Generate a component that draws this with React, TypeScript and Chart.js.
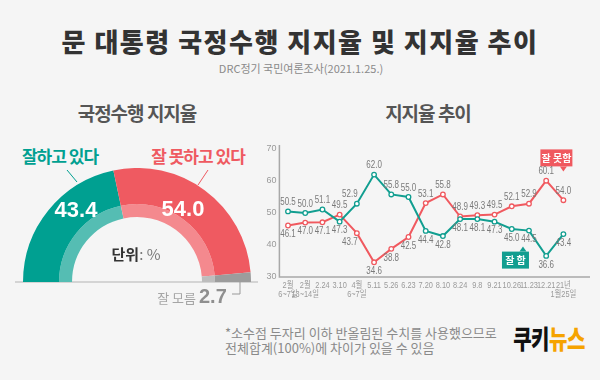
import React, { useEffect, useRef } from "react";
import { Chart, registerables } from "chart.js";

Chart.register(...registerables);

// ---------- data ----------
const gaugeLabels = ["잘하고 있다", "잘 못하고 있다", "잘 모름"];
const gaugeValues = [43.4, 54.0, 2.7];

const dateLabels: (string | string[])[] = [
  ["2월", "6~7일"],
  ["2월", "13~14일"],
  "2.24",
  "3.10",
  ["4월", "6~7일"],
  "5.11",
  "5.26",
  "6.23",
  "7.20",
  "8.10",
  "8.24",
  "9.8",
  "9.21",
  "10.26",
  "11.23",
  "12.21",
  ["21년", "1월25일"],
];
const seriesNames = ["잘 함", "잘 못함"];
const positiveSeries = [50.5, 50.0, 51.1, 47.3, 52.9, 62.0, 55.8, 55.0, 44.4, 42.8, 48.1, 48.1, 47.3, 45.0, 44.5, 36.6, 43.4];
const negativeSeries = [46.1, 47.0, 47.1, 49.5, 43.7, 34.6, 38.8, 42.5, 53.1, 55.8, 48.9, 49.3, 49.5, 52.1, 52.9, 60.1, 54.0];
const yMin = 30;
const yMax = 70;
const yStep = 10;

// ---------- styles ----------
const TEAL = "#00A091";
const RED = "#EF5A61";
const GRAY = "#9C9C9C";
const TEAL_L = "#55BDB3";
const RED_L = "#F4898E";
const GRAY_L = "#BDBDBD";
const LINE_GREEN = "#119E90";
const LINE_RED = "#F0595F";
const KR = "'Noto Sans CJK KR', 'Noto Sans', sans-serif";
const SANS = "'Liberation Sans', Arial, 'Noto Sans CJK KR', sans-serif";

function Gauge() {
  const ref = useRef<HTMLCanvasElement>(null);
  useEffect(() => {
    const chart = new Chart(ref.current!, {
      type: "doughnut",
      data: {
        labels: gaugeLabels,
        datasets: [
          { data: gaugeValues, backgroundColor: [TEAL, RED, GRAY], borderWidth: 0, weight: 36 } as any,
          { data: gaugeValues, backgroundColor: [TEAL_L, RED_L, GRAY_L], borderWidth: 0, weight: 13 } as any,
        ],
      },
      options: {
        responsive: false,
        animation: false,
        rotation: -90,
        circumference: 180,
        cutout: "57%",
        layout: { padding: 0 },
        plugins: { legend: { display: false }, tooltip: { enabled: false } },
      } as any,
    });
    return () => chart.destroy();
  }, []);
  return (
    <canvas
      ref={ref}
      width={228}
      height={114}
      style={{ position: "absolute", left: 23, top: 168, width: 228, height: 114 }}
    />
  );
}

const squeezeText = (ctx: CanvasRenderingContext2D, text: string, x: number, y: number, sx: number) => {
  ctx.save();
  ctx.translate(x, y);
  ctx.scale(sx, 1);
  ctx.fillText(text, 0, 0);
  ctx.restore();
};

const decorPlugin = {
  id: "decor",
  beforeDatasetsDraw(chart: any) {
    const { ctx, chartArea } = chart;
    ctx.save();
    ctx.strokeStyle = "#A8A8A8";
    ctx.lineWidth = 1.5;
    ctx.beginPath();
    ctx.moveTo(chartArea.left, chartArea.top - 4);
    ctx.lineTo(chartArea.left, chartArea.bottom);
    ctx.lineTo(chartArea.right + 18, chartArea.bottom);
    ctx.stroke();
    ctx.restore();
  },
  afterDatasetsDraw(chart: any) {
    const { ctx, chartArea } = chart;
    const xs = chart.scales.x;
    const ys = chart.scales.y;
    ctx.save();

    // callout boxes
    const drawBox = (text: string, color: string, tipX: number, tipY: number, boxL: number, boxR: number, down: boolean) => {
      ctx.fillStyle = color;
      let top: number, bottom: number;
      if (down) {
        bottom = tipY - 5;
        top = bottom - 17;
        ctx.fillRect(boxL, top, boxR - boxL, 17);
        ctx.beginPath();
        ctx.moveTo(tipX - 3.5, bottom);
        ctx.lineTo(tipX + 3.5, bottom);
        ctx.lineTo(tipX, tipY);
        ctx.closePath();
        ctx.fill();
      } else {
        top = tipY + 5;
        bottom = top + 17;
        ctx.fillRect(boxL, top, boxR - boxL, 17);
        ctx.beginPath();
        ctx.moveTo(tipX - 3.5, top);
        ctx.lineTo(tipX + 3.5, top);
        ctx.lineTo(tipX, tipY);
        ctx.closePath();
        ctx.fill();
      }
      ctx.fillStyle = "#fff";
      ctx.font = "bold 10px " + KR;
      ctx.textAlign = "center";
      ctx.textBaseline = "middle";
      ctx.fillText(text, (boxL + boxR) / 2, (top + bottom) / 2 + 0.5);
    };
    const last = dateLabels.length - 1;
    const xr = xs.getPixelForValue(last);
    const yr = ys.getPixelForValue(63);
    drawBox(seriesNames[1], LINE_RED, xr, yr, xr - 23, xr + 9, true);
    const xg = xs.getPixelForValue(last - 2);
    const yg = ys.getPixelForValue(39.5);
    drawBox(seriesNames[0], LINE_GREEN, xg - 6, yg, xg - 27, xg, false);

    // x tick labels (condensed)
    ctx.font = "9px " + SANS;
    ctx.fillStyle = "#9A9A9A";
    ctx.textAlign = "center";
    ctx.textBaseline = "middle";
    dateLabels.forEach((lab, i) => {
      const lines = Array.isArray(lab) ? lab : [lab];
      const x = xs.getPixelForValue(i);
      lines.forEach((ln, k) => {
        squeezeText(ctx, ln, x, chartArea.bottom + 9 + k * 8.5, 0.82);
      });
    });

    // value labels
    ctx.font = "10px " + SANS;
    ctx.fillStyle = "#7A7A7A";
    chart.data.datasets.forEach((ds: any, di: number) => {
      const meta = chart.getDatasetMeta(di);
      const other = chart.data.datasets[1 - di].data;
      meta.data.forEach((pt: any, j: number) => {
        const v = ds.data[j];
        const next = j + 1 < ds.data.length ? ds.data[j + 1] : v;
        const above = v >= other[j];
        // steep segment to the right: move label left so it does not sit on the line
        const steep = above ? next - v > 8 : v - next > 8;
        const dx = steep ? -7 : 0;
        squeezeText(ctx, v.toFixed(1), pt.x + dx, pt.y + (above ? -9 : 9), 0.8);
      });
    });
    ctx.restore();
  },
};

function TrendChart() {
  const ref = useRef<HTMLCanvasElement>(null);
  useEffect(() => {
    const pointStyle = (c: string) => ({
      borderColor: c,
      backgroundColor: "#fff",
      pointBackgroundColor: "#fff",
      pointBorderColor: c,
      pointRadius: 2.3,
      pointBorderWidth: 1.3,
      borderWidth: 2,
      tension: 0,
    });
    const chart = new Chart(ref.current!, {
      type: "line",
      data: {
        labels: dateLabels as any,
        datasets: [
          { label: seriesNames[0], data: positiveSeries, ...pointStyle(LINE_GREEN) },
          { label: seriesNames[1], data: negativeSeries, ...pointStyle(LINE_RED) },
        ],
      },
      options: {
        responsive: false,
        animation: false,
        layout: { padding: { left: 0, top: 14, right: 28, bottom: 3 } },
        plugins: { legend: { display: false }, tooltip: { enabled: false } },
        scales: {
          x: {
            offset: true,
            grid: { display: false, drawTicks: false, tickLength: 0 },
            border: { display: false },
            ticks: { display: false, autoSkip: false, maxRotation: 0, minRotation: 0 },
            afterFit: (s: any) => {
              s.height = 30;
            },
          },
          y: {
            min: yMin,
            max: yMax,
            grid: { display: false, drawTicks: false, tickLength: 0 },
            border: { display: false },
            ticks: { stepSize: yStep, padding: 3, color: "#9A9A9A", font: { family: SANS, size: 9 } },
            afterFit: (s: any) => {
              s.width = 17.4;
            },
          },
        },
      } as any,
      plugins: [decorPlugin],
    });
    return () => chart.destroy();
  }, []);
  return (
    <canvas
      ref={ref}
      width={338}
      height={175}
      style={{ position: "absolute", left: 262, top: 135, width: 338, height: 175 }}
    />
  );
}

const center = (cx: number, cy: number): React.CSSProperties => ({
  position: "absolute",
  left: cx,
  top: cy,
  transform: "translate(-50%, -50%)",
  whiteSpace: "nowrap",
  lineHeight: 1,
});

export default function App() {
  return (
    <div
      style={{
        position: "fixed",
        left: 0,
        top: 0,
        width: 600,
        height: 380,
        background: "#F5F5F5",
        overflow: "hidden",
        fontFamily: KR,
      }}
    >
      <div style={{ ...center(300, 41), fontSize: 26, fontWeight: 900, letterSpacing: 1.5, color: "#333" }}>
        문 대통령 국정수행 지지율 및 지지율 추이
      </div>
      <div style={{ ...center(301, 68), fontSize: 11, color: "#8A8A8A" }}>DRC정기 국민여론조사(2021.1.25.)</div>

      <div style={{ ...center(137, 112), fontSize: 19, fontWeight: 700, letterSpacing: -1, color: "#555" }}>
        국정수행 지지율
      </div>
      <div style={{ ...center(428, 112), fontSize: 19, fontWeight: 700, letterSpacing: -1, color: "#555" }}>
        지지율 추이
      </div>

      <svg
        width={600}
        height={380}
        style={{ position: "absolute", left: 0, top: 0, pointerEvents: "none" }}
      >
        <line x1={15} y1={282} x2={258} y2={282} stroke="#C8C8C8" strokeWidth={1.5} />
        <line x1={67} y1={170} x2={77} y2={182} stroke={TEAL} strokeWidth={1} />
        <line x1={208} y1={170} x2={198} y2={185} stroke={RED} strokeWidth={1} />
        <polyline points="240,282 240,294 232,294" fill="none" stroke="#999" strokeWidth={1} />
      </svg>

      <Gauge />

      <div style={{ ...center(60, 155), fontSize: 17, fontWeight: 700, letterSpacing: -1, color: TEAL }}>
        {gaugeLabels[0]}
      </div>
      <div style={{ ...center(198, 155), fontSize: 17, fontWeight: 700, letterSpacing: -1, color: RED }}>
        {gaugeLabels[1]}
      </div>
      <div style={{ ...center(76, 210), fontSize: 22, fontWeight: 700, color: "#fff", fontFamily: SANS }}>
        {gaugeValues[0].toFixed(1)}
      </div>
      <div style={{ ...center(183, 209), fontSize: 22, fontWeight: 700, color: "#fff", fontFamily: SANS }}>
        {gaugeValues[1].toFixed(1)}
      </div>
      <div style={{ ...center(136, 253), fontSize: 15 }}>
        <span style={{ fontWeight: 700, color: "#333" }}>단위</span>
        <span style={{ color: "#777" }}>: %</span>
      </div>
      <div style={{ ...center(192, 296), fontSize: 13 }}>
        <span style={{ color: "#A5A5A5" }}>{gaugeLabels[2]} </span>
        <span style={{ fontWeight: 700, fontSize: 20, color: "#8F8F8F", fontFamily: SANS }}>
          {gaugeValues[2].toFixed(1)}
        </span>
      </div>

      <TrendChart />

      <div
        style={{
          position: "absolute",
          left: 225,
          top: 325,
          fontSize: 13,
          lineHeight: "15px",
          color: "#8A8A8A",
          whiteSpace: "nowrap",
        }}
      >
        *소수점 두자리 이하 반올림된 수치를 사용했으므로
        <br />
        전체합계(100%)에 차이가 있을 수 있음
      </div>
      <div
        style={{
          ...center(549, 339),
          fontSize: 20,
          fontWeight: 900,
          letterSpacing: -0.5,
          transform: "translate(-50%, -50%) scaleY(1.3)",
        }}
      >
        <span style={{ color: "#111" }}>쿠키</span>
        <span style={{ color: "#F5A300" }}>뉴스</span>
      </div>
    </div>
  );
}
